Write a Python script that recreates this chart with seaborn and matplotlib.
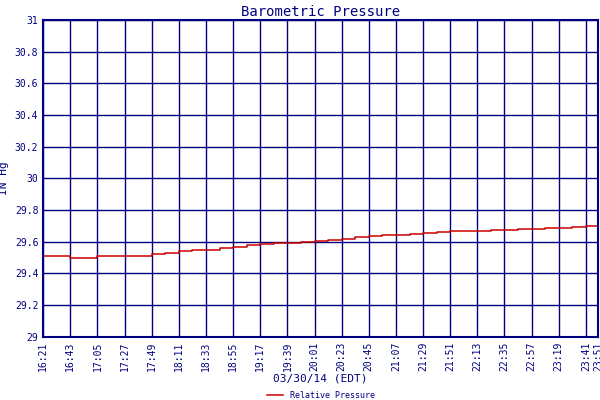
import matplotlib
matplotlib.use("Agg")
import matplotlib.pyplot as plt
import seaborn as sns
import pandas as pd

# minutes after 16:21 and pressure readings
minutes = [0, 11, 22, 33, 44, 55, 66, 77, 88, 99, 110, 121, 132, 143, 154, 165, 176,
           187, 198, 209, 220, 231, 242, 253, 264, 275, 286, 297, 308, 319, 330, 341,
           352, 363, 374, 385, 396, 407, 418, 429, 440, 450]
pressure = [29.51, 29.51, 29.50, 29.50, 29.51, 29.51, 29.51, 29.51, 29.52, 29.53, 29.54, 29.55,
            29.55, 29.56, 29.565, 29.58, 29.585, 29.59, 29.59, 29.60, 29.605, 29.61, 29.62, 29.63,
            29.635, 29.64, 29.645, 29.65, 29.655, 29.66, 29.665, 29.67, 29.67, 29.675, 29.675,
            29.68, 29.68, 29.685, 29.69, 29.695, 29.70, 29.705]
tick_pos = [i * 22 for i in range(21)] + [450]
tick_labels = ["16:21", "16:43", "17:05", "17:27", "17:49", "18:11", "18:33", "18:55",
               "19:17", "19:39", "20:01", "20:23", "20:45", "21:07", "21:29", "21:51",
               "22:13", "22:35", "22:57", "23:19", "23:41", "23:51"]

df = pd.DataFrame({"t": minutes, "p": pressure})
navy = "#000080"
plt.rcParams["font.family"] = "DejaVu Sans Mono"

fig = plt.figure(figsize=(6, 4), dpi=100)
ax = fig.add_axes([0.072, 0.158, 0.925, 0.792])
sns.lineplot(data=df, x="t", y="p", color="#cc0000", linewidth=1.1, ax=ax,
             label="Relative Pressure", drawstyle="steps-post")
ax.set_xlim(0, 450)
ax.set_ylim(29, 31)
ax.set_yticks([29 + 0.2 * i for i in range(11)])
ax.set_yticklabels(["29", "29.2", "29.4", "29.6", "29.8", "30", "30.2", "30.4", "30.6", "30.8", "31"])
ax.set_xticks(tick_pos)
ax.set_xticklabels(tick_labels, rotation=90)
ax.tick_params(colors=navy, labelsize=7, length=0)
ax.grid(True, color=navy, linewidth=1)
for s in ax.spines.values():
    s.set_color(navy)
    s.set_linewidth(1.5)
ax.set_xlabel("03/30/14 (EDT)", color=navy, fontsize=8, labelpad=2)
ax.set_ylabel("IN Hg", color=navy, fontsize=8)
ax.set_title("Barometric Pressure", color=navy, fontsize=10, pad=3)
ax.legend(loc="center", bbox_to_anchor=(0.5, -0.185), frameon=False, fontsize=6,
          handlelength=2, labelcolor=navy, borderpad=0)
fig.savefig("out.png")
